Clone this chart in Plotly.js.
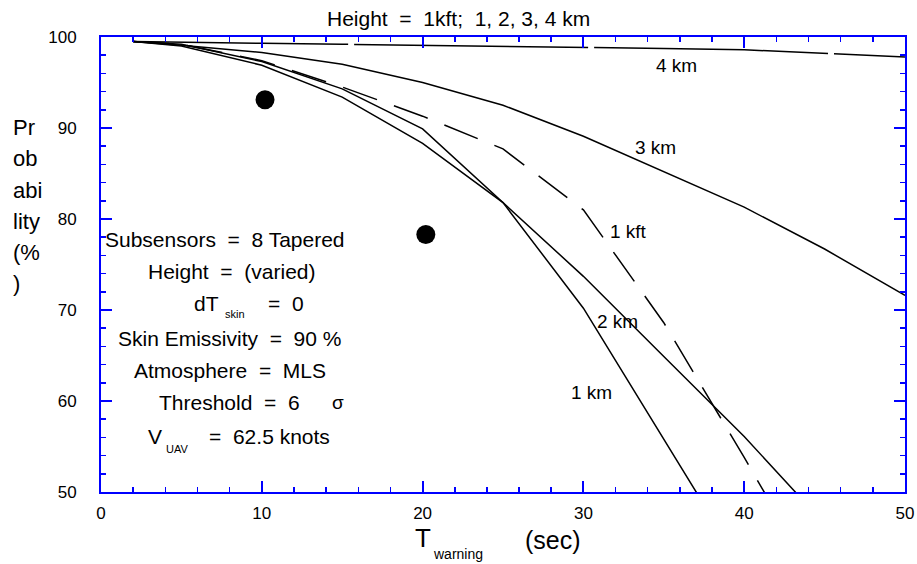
<!DOCTYPE html>
<html><head><meta charset="utf-8">
<script src="https://cdn.plot.ly/plotly-3.0.1.min.js"></script>
<style>html,body{margin:0;padding:0;background:#fff}#chart{width:917px;height:564px}</style>
</head><body><div id="chart"></div>
<script>
// ---- data ----
const time4km = [2, 5, 10, 15, 20, 25, 30, 35, 40, 45, 50];
const prob4km = [99.5, 99.4, 99.3, 99.2, 99.1, 99.0, 98.9, 98.75, 98.6, 98.2, 97.8];
const time3km = [2, 5, 10, 15, 20, 25, 30, 35, 40, 45, 50];
const prob3km = [99.5, 99.1, 98.3, 97.0, 95.0, 92.5, 89.1, 85.2, 81.3, 76.7, 71.6];
const time2km = [2, 5, 10, 15, 20, 25, 30, 35, 40, 45];
const prob2km = [99.5, 99.2, 97.3, 94.3, 89.9, 81.8, 73.7, 64.9, 56.1, 46.5];
const time1km = [2, 5, 10, 15, 20, 25, 30, 35, 40];
const prob1km = [99.5, 99.0, 96.9, 93.4, 88.3, 81.8, 70.2, 55.8, 41.4];
const time1kft = [2, 5, 10, 15, 20, 25, 30, 35, 40, 45];
const prob1kft = [99.5, 99.2, 97.4, 94.5, 91.3, 87.7, 81.0, 68.6, 53.8, 38.5];
const pointTime = [10.2, 20.2];
const pointProb = [93.1, 78.3];
const xTicks = [0, 10, 20, 30, 40, 50];
const yTicks = [50, 60, 70, 80, 90, 100];

const F = 'Arial, "Liberation Sans", sans-serif';
const BLUE = '#0000ff';
const lineStyle = {color: '#000', width: 1.5};

const traces = [
  {x: time4km, y: prob4km, mode: 'lines', line: Object.assign({}, lineStyle, {dash: '215px,6px,234px,6px,234px,6px'}), name: '4 km'},
  {x: time3km, y: prob3km, mode: 'lines', line: lineStyle, name: '3 km'},
  {x: time2km, y: prob2km, mode: 'lines', line: lineStyle, name: '2 km'},
  {x: time1km, y: prob1km, mode: 'lines', line: lineStyle, name: '1 km'},
  {x: time1kft, y: prob1kft, mode: 'lines', line: Object.assign({}, lineStyle, {dash: '36px,18px'}), name: '1 kft'},
  {x: pointTime, y: pointProb, mode: 'markers', marker: {color: '#000', size: 19}, name: 'points'}
];

function ann(text, x, y, size, extra) {
  return Object.assign({text: text, x: x, y: y, xref: 'x', yref: 'y', showarrow: false,
    font: {family: F, size: size, color: '#000'}, xanchor: 'center', yanchor: 'middle'}, extra || {});
}
function pann(text, x, y, size, extra) {
  return Object.assign(ann(text, x, y, size, extra), {xref: 'paper', yref: 'paper'});
}
const S = '\u00a0';
const eq = S + S + '=' + S + S;

const annotations = [
  // curve labels
  ann('4 km', 35.8, 96.9, 19),
  ann('3 km', 34.5, 87.9, 19),
  ann('1 kft', 32.8, 78.6, 19),
  ann('2 km', 32.1, 68.7, 19),
  ann('1 km', 30.5, 60.9, 19),
  // parameter block
  ann('Subsensors' + eq + '8 Tapered', 7.71, 77.7, 21),
  ann('Height' + eq + '(varied)', 8.15, 74.2, 21),
  ann('dT', 6.53, 70.66, 21),
  ann('skin', 8.33, 69.56, 11),
  ann('=' + S + S + '0', 11.5, 70.66, 21),
  ann('Skin Emissivity' + eq + '90 %', 8.02, 66.9, 21),
  ann('Atmosphere' + eq + 'MLS', 8.02, 63.3, 21),
  ann('Threshold' + eq + '6', 8.02, 59.8, 21),
  ann('\u03c3', 14.75, 59.8, 19),
  ann('V', 3.36, 56.1, 21),
  ann('UAV', 4.73, 54.7, 11),
  ann('=' + S + S + '62.5 knots', 10.5, 56.1, 21),
  // subtitle
  pann('Height' + eq + '1kft;' + S + S + '1, 2, 3, 4 km', (458.5 - 101) / 804, 1 + 18 / 455, 21),
  // x-axis title pieces
  pann('T', (423 - 101) / 804, -46 / 455, 26),
  pann('warning', (458 - 101) / 804, -62 / 455, 14),
  pann('(sec)', (553 - 101) / 804, -48 / 455, 25)
];
// y-axis title, one line per piece
const yTitleLines = ['Pr', 'ob', 'abi', 'lity', '(%', ')'];
yTitleLines.forEach(function (t, i) {
  annotations.push(pann(t, -90 / 804, 1 - (91 + 31 * i) / 455, 22, {xanchor: 'left'}));
});

const axisCommon = {
  showline: true, linecolor: BLUE, linewidth: 2, mirror: 'ticks',
  ticks: 'inside', ticklen: 11, tickwidth: 2, tickcolor: BLUE,
  showgrid: false, zeroline: false,
  tickfont: {family: F, size: 17, color: '#000'},
  minor: {ticks: 'inside', ticklen: 5, tickwidth: 1.5, tickcolor: BLUE, showgrid: false}
};

const layout = {
  width: 917, height: 564,
  margin: {l: 101, r: 12, t: 37, b: 72},
  paper_bgcolor: '#fff', plot_bgcolor: '#fff',
  showlegend: false,
  xaxis: Object.assign({}, axisCommon, {range: [0, 50], tickmode: 'array', tickvals: xTicks,
    minor: Object.assign({}, axisCommon.minor, {dtick: 2, tick0: 0}), ticklabelstandoff: 5}),
  yaxis: Object.assign({}, axisCommon, {range: [50, 100], tickmode: 'array', tickvals: yTicks,
    minor: Object.assign({}, axisCommon.minor, {dtick: 2, tick0: 50}), ticklabelstandoff: 19}),
  annotations: annotations
};

Plotly.newPlot('chart', traces, layout, {displayModeBar: false, staticPlot: true});
</script>
</body></html>
